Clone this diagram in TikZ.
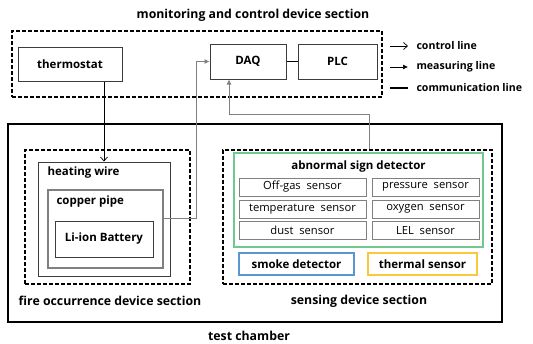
\documentclass[tikz,border=0pt]{standalone}
\usepackage{fontspec}
\setmainfont{Open Sans}
\usetikzlibrary{arrows.meta}
\definecolor{boxgray}{RGB}{128,128,128}
\definecolor{greenb}{RGB}{112,200,140}
\definecolor{blueb}{RGB}{90,150,210}
\definecolor{yellowb}{RGB}{250,200,60}
\definecolor{darkline}{RGB}{60,60,60}
\tikzset{
  lbl/.style={font=\fontsize{11.5}{13}\selectfont\bfseries},
  leg/.style={font=\fontsize{10.6}{12}\selectfont\bfseries},
  ttl/.style={font=\fontsize{12.3}{14}\selectfont\bfseries},
  sens/.style={font=\fontsize{11.2}{12}\selectfont, draw=boxgray, line width=1pt, inner sep=0pt, minimum width=#1, minimum height=18pt},
  box/.style={draw=darkline, line width=1pt, inner sep=0pt},
  dbox/.style={draw, line width=1.4pt, dash pattern=on 4pt off 2pt, inner sep=0pt},
  ctrl/.style={-{Straight Barb[length=4pt,width=7pt]}, line width=0.7pt},
  meas/.style={-{Latex[length=5pt,width=5pt]}, line width=0.7pt},
  gline/.style={draw=boxgray, line width=1pt}
}
\begin{document}
\begin{tikzpicture}[x=1pt,y=-1pt]
\useasboundingbox (0,0) rectangle (533,343);
% top section
\node[ttl] (ttop) at (253,15) {monitoring and control device section};
\node[dbox, minimum width=370pt, minimum height=66pt] (top) at (197,64) {};
\node[box, lbl, minimum width=104pt, minimum height=34pt] (thermo) at (70,64) {thermostat};
\node[box, lbl, minimum width=76pt, minimum height=35pt] (daq) at (248,61.5) {DAQ};
\node[box, lbl, minimum width=79pt, minimum height=35pt] (plc) at (337.5,61.5) {PLC};
\draw[line width=1pt] (daq.east) -- (plc.west);
% legend
\node[leg, anchor=west] (lg1) at (413,46) {control line};
\node[leg, anchor=west] (lg2) at (413,67) {measuring line};
\node[leg, anchor=west] (lg3) at (413,88) {communication line};
\draw[ctrl] ([xshift=-23pt]lg1.west) -- ([xshift=-5pt]lg1.west);
\draw[meas] ([xshift=-23pt]lg2.west) -- ([xshift=-5pt]lg2.west);
\draw[line width=1.3pt] ([xshift=-23pt]lg3.west) -- ([xshift=-5pt]lg3.west);
% chamber
\node[draw, line width=2.2pt, minimum width=494pt, minimum height=198pt, inner sep=0pt] (chamber) at (255,223) {};
\node[ttl] (tch) at (249,336) {test chamber};
% fire section
\node[dbox, minimum width=165pt, minimum height=134pt] (fire) at (107.5,217) {};
\node[box, minimum width=132pt, minimum height=114pt] (heat) at (104,219) {};
\node[lbl, anchor=west] (theat) at (44,173) {heating wire};
\node[draw=boxgray, line width=1.2pt, inner sep=0pt, minimum width=115pt, minimum height=78pt] (copper) at (105.5,229) {};
\node[lbl, anchor=west] (tcopper) at (53,202) {copper pipe};
\node[box, lbl, minimum width=98pt, minimum height=36pt] (liion) at (104,239) {Li-ion Battery};
\node[ttl] (tfire) at (110,301) {fire occurrence device section};
% sensing section
\node[dbox, minimum width=269pt, minimum height=134pt] (sensing) at (357.5,217) {};
\node[draw=greenb, line width=1.2pt, inner sep=0pt, minimum width=249pt, minimum height=94pt] (abn) at (358.5,200) {};
\node[lbl] (tabn) at (358.5,167) {abnormal sign detector};
\node[sens=127pt] (s1) at (302.5,187) {Off-gas\ \ sensor};
\node[sens=107pt] (s2) at (425.5,187) {pressure\ \ sensor};
\node[sens=127pt] (s3) at (302.5,209) {temperature\ \ sensor};
\node[sens=107pt] (s4) at (425.5,209) {oxygen\ \ sensor};
\node[sens=127pt] (s5) at (302.5,230.5) {dust\ \ sensor};
\node[sens=107pt] (s6) at (425.5,230.5) {LEL\ \ sensor};
\node[draw=blueb, line width=1.2pt, inner sep=0pt, lbl, minimum width=115pt, minimum height=22pt] (smoke) at (296.5,264) {smoke detector};
\node[draw=yellowb, line width=1.2pt, inner sep=0pt, lbl, minimum width=109pt, minimum height=22pt] (thermal) at (422.5,264) {thermal sensor};
\node[ttl] (tsens) at (359,301) {sensing device section};
% connectors
\draw[ctrl] (thermo.south -| heat.north) -- (heat.north);
\draw[gline, meas] ([yshift=11pt]copper.east) -- ++(33,0) |- (daq.west);
\draw[gline, meas] ([xshift=11.5pt]sensing.north) -- ++(0,-35) -| ([xshift=-19pt]daq.south);
\end{tikzpicture}
\end{document}
